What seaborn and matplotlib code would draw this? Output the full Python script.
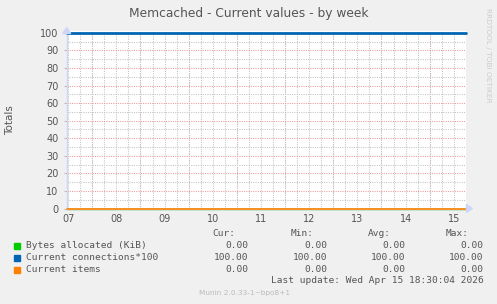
import matplotlib
matplotlib.use("Agg")
import matplotlib.pyplot as plt
import matplotlib.patches as mpatches
import seaborn as sns
import pandas as pd

# ---- data ----
time_days = [7.47, 9.0, 11.0, 13.0, 15.0, 15.75]
bytes_allocated = [0, 0, 0, 0, 0, 0]
current_connections = [100, 100, 100, 100, 100, 100]
current_items = [0, 0, 0, 0, 0, 0]

series_names = ["Bytes allocated (KiB)", "Current connections*100", "Current items"]
series_colors = ["#00CC00", "#0066B3", "#FF8000"]
day_labels = ["07", "08", "09", "10", "11", "12", "13", "14", "15"]
day_label_pos = [7.5, 8.5, 9.5, 10.5, 11.5, 12.5, 13.5, 14.5, 15.5]
midnights = [8, 9, 10, 11, 12, 13, 14, 15]
y_ticks = [0, 10, 20, 30, 40, 50, 60, 70, 80, 90, 100]

cur_vals = ["0.00", "100.00", "0.00"]
min_vals = ["0.00", "100.00", "0.00"]
avg_vals = ["0.00", "100.00", "0.00"]
max_vals = ["0.00", "100.00", "0.00"]

title = "Memcached - Current values - by week"
last_update = "Last update: Wed Apr 15 18:30:04 2026"
munin_ver = "Munin 2.0.33-1~bpo8+1"

# ---- build frame ----
rows = []
for name, vals in zip(series_names, [bytes_allocated, current_connections, current_items]):
    for t, v in zip(time_days, vals):
        rows.append({"t": t, "v": v, "series": name})
df = pd.DataFrame(rows)

sns.set_style("white")
plt.rcParams["font.family"] = ["DejaVu Sans"]

BG = "#F0F0F0"
FONT = "#555555"
AXIS = "#CFD6F8"
H = 304
fig = plt.figure(figsize=(4.97, 3.04), dpi=100, facecolor=BG)
ax = fig.add_axes([0.1342, 0.3141, 0.8034, 0.5826])
ax.set_facecolor("white")

xmin, xmax = 7.469, 15.753
ax.set_xlim(xmin, xmax)
ax.set_ylim(0, 100.8)

# grid
ax.set_yticks(y_ticks)
ax.set_yticks([5, 15, 25, 35, 45, 55, 65, 75, 85, 95], minor=True)
six_h = [7.5 + 0.25 * i for i in range(34) if 7.5 + 0.25 * i < xmax]
ax.set_xticks(day_label_pos, day_labels)
ax.set_xticks(six_h, minor=True)
ax.xaxis.remove_overlapping_locs = False
ax.grid(False)
GRAY = "#C4C4C4"
RED = "#EE9A9A"
DOT = (0, (1, 1.2))
ax.grid(which="minor", axis="both", color=GRAY, linestyle=DOT, linewidth=0.75)
ax.grid(which="major", axis="y", color=RED, linestyle=DOT, linewidth=0.75)
for m in midnights:
    ax.axvline(m, color=RED, linestyle=DOT, linewidth=0.75, zorder=0.5)
ax.set_axisbelow(True)

sns.lineplot(data=df, x="t", y="v", hue="series", palette=dict(zip(series_names, series_colors)),
             ax=ax, legend=False, linewidth=1.0, estimator=None, sort=False)
for ln in ax.get_lines():
    c = matplotlib.colors.to_hex(ln.get_color()).lower()
    if c == "#0066b3":
        ln.set_linewidth(2.0)
        ln.set_zorder(3)
    elif c == "#ff8000":
        ln.set_zorder(4)
        ln.set_linewidth(1.2)
    elif c == "#00cc00":
        ln.set_zorder(2)
    ln.set_clip_on(False)

for s in ["top", "right"]:
    ax.spines[s].set_visible(False)
ax.spines["left"].set_color(AXIS)
ax.spines["bottom"].set_color(AXIS)
ax.spines["left"].set_linewidth(1.0)
ax.spines["bottom"].set_linewidth(1.0)
ax.spines["left"].set_bounds(0, 100.8)

ax.tick_params(axis="x", which="major", length=0, pad=4, labelsize=7, labelcolor=FONT)
ax.tick_params(axis="x", which="minor", length=0)
ax.tick_params(axis="y", which="major", length=2, width=0.8, color="#BBBBBB", pad=4,
               labelsize=7, labelcolor=FONT, left=True)
ax.tick_params(axis="y", which="minor", length=0)
ax.set_xlabel("")
ax.set_ylabel("Totals", fontsize=7.5, color=FONT)
ax.yaxis.set_label_coords(-0.13, 0.5)

# arrows (display coords, origin bottom-left)
fig.patches.append(mpatches.Polygon([[466.5, H - 204.5], [472.5, H - 208.5], [466.5, H - 212.5]],
                   closed=True, transform=None, color=AXIS))
fig.patches.append(mpatches.Polygon([[62.7, H - 33.5], [66.7, H - 27.5], [70.7, H - 33.5]],
                   closed=True, transform=None, color=AXIS))

# title and side texts
fig.text(0.5, 1 - 13 / H, title, ha="center", va="center", fontsize=8.8, color=FONT)
fig.text(488 / 497, 1 - 55 / H, "RRDTOOL / TOBI OETIKER", rotation=-90, ha="center", va="center",
         fontsize=5.3, color="#CCCCCC")

# legend table
mono = "DejaVu Sans Mono"
fs = 6.8
row_y = [245.7, 257.7, 269.3]
headers = ["Cur:", "Min:", "Avg:", "Max:"]
header_right = [235.5, 313.5, 390.5, 468.5]
col_right = [248.5, 327.5, 405, 483.5]
for h, xr in zip(headers, header_right):
    fig.text(xr / 497, 1 - 233.3 / H, h, ha="right", va="center", family=mono, fontsize=fs, color=FONT)
for i, (name, col) in enumerate(zip(series_names, series_colors)):
    y = 1 - row_y[i] / H
    fig.patches.append(mpatches.Rectangle((13.5, H - row_y[i] - 3.5), 6, 6, transform=None, color=col))
    fig.text(26.5 / 497, y, name, ha="left", va="center", family=mono, fontsize=fs, color=FONT)
    for vals, xr in zip([cur_vals, min_vals, avg_vals, max_vals], col_right):
        fig.text(xr / 497, y, vals[i], ha="right", va="center", family=mono, fontsize=fs, color=FONT)
fig.text(483.5 / 497, 1 - 280.5 / H, last_update, ha="right", va="center", family=mono, fontsize=fs, color=FONT)
fig.text(199 / 497, 1 - 293.5 / H, munin_ver, ha="left", va="center", fontsize=5.3, color="#BBBBBB")

fig.savefig("out.png", dpi=100, facecolor=BG)
